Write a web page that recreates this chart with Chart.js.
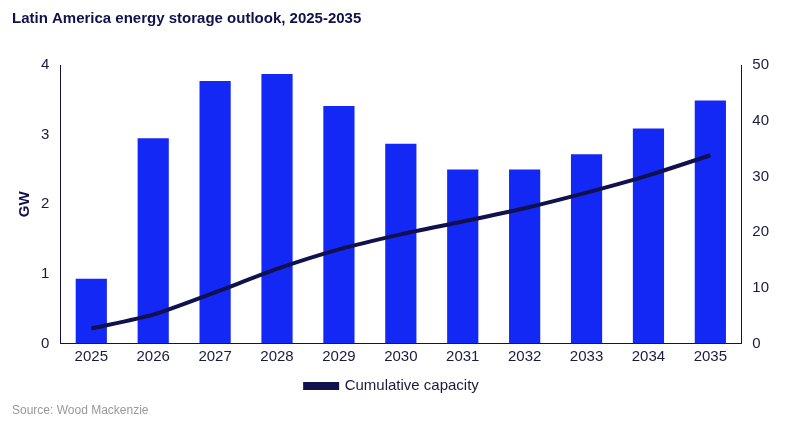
<!DOCTYPE html>
<html>
<head>
<script src="https://cdn.jsdelivr.net/npm/chart.js@4"></script>
<style>
  body { margin: 0; background: #fff; }
  #wrap { position: relative; width: 800px; height: 426px; }
</style>
</head>
<body>
<div id="wrap"><canvas id="chart"></canvas></div>
<script>
const years = ['2025', '2026', '2027', '2028', '2029', '2030', '2031', '2032', '2033', '2034', '2035'];
const annualGW = [0.93, 2.95, 3.77, 3.87, 3.41, 2.87, 2.5, 2.5, 2.72, 3.09, 3.49];
const cumulativeGW = [2.7, 5.2, 9.2, 13.4, 16.9, 19.6, 21.9, 24.3, 27.1, 30.2, 33.8];

const navy = '#11114e';
const tickFont = { family: 'Arial', size: 15 };

new Chart(document.getElementById('chart'), {
  data: {
    labels: years,
    datasets: [
      {
        type: 'line',
        label: 'Cumulative capacity',
        data: cumulativeGW,
        yAxisID: 'y2',
        borderColor: navy,
        backgroundColor: navy,
        borderWidth: 4,
        pointRadius: 0,
        tension: 0.2,
        order: 0,
      },
      {
        type: 'bar',
        label: 'Annual',
        data: annualGW,
        yAxisID: 'y',
        backgroundColor: '#1428f5',
        categoryPercentage: 0.8,
        barPercentage: 0.63,
        order: 1,
      },
    ],
  },
  options: {
    responsive: true,
    maintainAspectRatio: false,
    animation: false,
    layout: { padding: { left: 12, right: 28, top: 0, bottom: 0 } },
    scales: {
      x: {
        grid: { display: false, drawTicks: false },
        border: { color: navy },
        ticks: { color: '#1a1a3e', font: tickFont, padding: 4 },
      },
      y: {
        min: 0, max: 4,
        ticks: { stepSize: 1, color: '#1a1a3e', font: tickFont },
        grid: { display: false },
        border: { color: navy },
        title: { display: true, text: 'GW', color: navy, font: { family: 'Arial', size: 15, weight: 'bold' } },
      },
      y2: {
        position: 'right',
        min: 0, max: 50,
        ticks: { stepSize: 10, color: '#1a1a3e', font: tickFont },
        grid: { display: false },
        border: { color: navy },
      },
    },
    plugins: {
      title: {
        display: true,
        text: 'Latin America energy storage outlook, 2025-2035',
        align: 'start',
        color: navy,
        font: { family: 'Arial', size: 15, weight: 'bold' },
        padding: { top: 10, bottom: 37 },
      },
      subtitle: {
        display: true,
        text: 'Source: Wood Mackenzie',
        position: 'bottom',
        align: 'start',
        color: '#999',
        font: { family: 'Arial', size: 12 },
        padding: { top: 0, bottom: 8 },
      },
      legend: {
        position: 'bottom',
        labels: {
          filter: (item) => item.text === 'Cumulative capacity',
          boxWidth: 32, boxHeight: 4,
          color: '#1a1a3e',
          font: { family: 'Arial', size: 15 },
          padding: 9,
        },
      },
      tooltip: { enabled: false },
    },
  },
});
</script>
</body>
</html>
